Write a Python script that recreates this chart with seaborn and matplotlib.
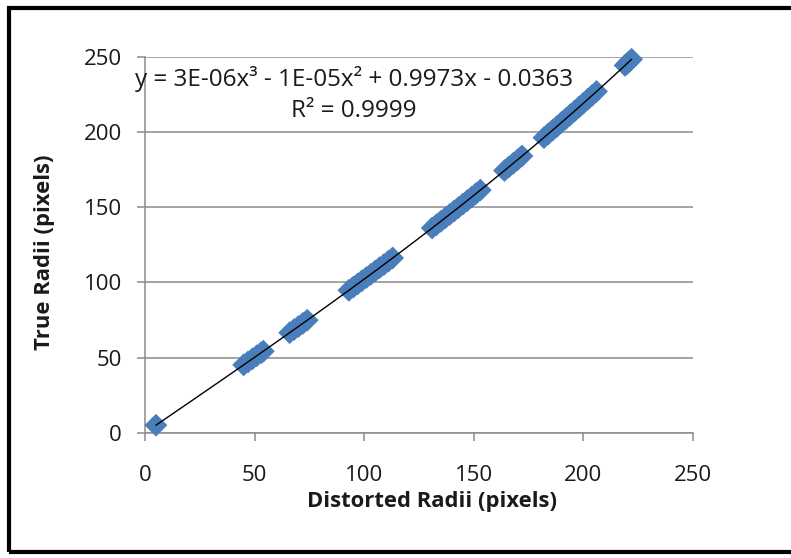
import matplotlib
matplotlib.use('Agg')
import matplotlib.pyplot as plt
import matplotlib.patches as patches
import seaborn as sns
import numpy as np
import pandas as pd

# 读取自图片的数据（畸变半径 vs 真实半径）
distorted_radii = [5,
                   45, 47, 49, 51, 53, 54,
                   66, 68, 70, 72, 74,
                   93, 95, 97, 99, 101, 103, 105, 107, 109, 111, 113,
                   131, 133, 135, 137, 139, 141, 143, 145, 147, 149, 151, 153,
                   164, 166, 168, 170, 172,
                   182, 184, 186, 188, 190, 192, 194, 196, 198, 200, 202, 204, 206,
                   219, 220, 221, 222]
true_radii = [5,
              45.1, 47.1, 49.1, 51.2, 53.2, 54.2,
              66.5, 68.6, 70.6, 72.7, 74.8,
              94.7, 96.8, 98.9, 101.1, 103.2, 105.3, 107.5, 109.7, 111.8, 114.0, 116.2,
              136.1, 138.3, 140.6, 142.9, 145.1, 147.4, 149.7, 152.0, 154.3, 156.6, 159.0, 161.3,
              174.3, 176.7, 179.1, 181.5, 184.0,
              196.2, 198.7, 201.2, 203.7, 206.3, 208.8, 211.4, 213.9, 216.5, 219.1, 221.7, 224.3, 226.9,
              244.2, 245.5, 246.9, 248.3]
axis_ticks = [0, 50, 100, 150, 200, 250]
equation_text = 'y = 3E-06x³ - 1E-05x² + 0.9973x - 0.0363\nR² = 0.9999'

sns.set_theme(style='white')
plt.rcParams['font.family'] = ['Open Sans', 'DejaVu Sans']

df = pd.DataFrame({'distorted': distorted_radii, 'true': true_radii})

fig = plt.figure(figsize=(7.91, 5.58), dpi=100)
ax = fig.add_axes([0.1833, 0.2245, 0.6928, 0.6739])

grid_col = '#8c8c8c'
ax.set_xlim(0, 250)
ax.set_ylim(0, 250)
ax.set_xticks(axis_ticks)
ax.set_yticks(axis_ticks)
ax.yaxis.grid(True, color=grid_col, linewidth=1.1)
ax.xaxis.grid(False)
ax.set_axisbelow(True)

sns.scatterplot(data=df, x='distorted', y='true', marker='D', s=135,
                color='#4a7ebb', edgecolor='none', linewidth=0, ax=ax, zorder=3,
                clip_on=False)
sns.regplot(data=df, x='distorted', y='true', order=3, scatter=False, ci=None,
            line_kws={'color': 'black', 'linewidth': 1.0, 'zorder': 4}, ax=ax)

for s in ['top', 'right']:
    ax.spines[s].set_visible(False)
for s in ['left', 'bottom']:
    ax.spines[s].set_color(grid_col)
    ax.spines[s].set_linewidth(1.1)

ax.tick_params(axis='both', which='major', direction='out', length=5.5, width=1.1,
               color=grid_col, labelsize=16, labelcolor='#1a1a1a', left=True, bottom=True)
ax.tick_params(axis='y', pad=11)
ax.tick_params(axis='x', pad=18)

ax.set_xlabel('Distorted Radii (pixels)', fontsize=15.8, fontweight='bold', color='#1a1a1a')
ax.set_ylabel('True Radii (pixels)', fontsize=15.8, fontweight='bold', color='#1a1a1a')
ax.xaxis.set_label_coords(0.524, -0.182)
ax.xaxis.label.set_va('center')
ax.yaxis.set_label_coords(-0.1825, 0.48)
ax.yaxis.label.set_va('center')

ax.text(0.381, 0.8995, equation_text, transform=ax.transAxes, ha='center', va='center',
        fontsize=17.5, color='#1a1a1a', linespacing=1.4, multialignment='center')

# 外框
frame = patches.Rectangle((0.0114, 0.0108), 1.0, 0.975, transform=fig.transFigure,
                          fill=False, edgecolor='black', linewidth=3, clip_on=False)
fig.patches.append(frame)

fig.savefig('out.png', dpi=100, facecolor='white')
